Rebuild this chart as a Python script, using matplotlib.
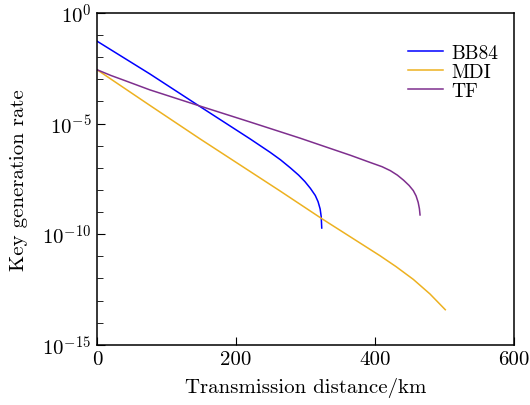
import numpy as np
import matplotlib
matplotlib.use('Agg')
import matplotlib.pyplot as plt
from matplotlib.ticker import LogLocator, NullFormatter

plt.rcParams['font.family'] = 'cmr10'
plt.rcParams['mathtext.fontset'] = 'cm'

# distance in km, rate as log10 value
bb84_km = [0, 76, 146, 220, 249, 264, 278, 290, 299, 307, 314, 318, 321, 322.5, 323.3]
bb84_lg = [-1.28, -2.76, -4.19, -5.69, -6.30, -6.64, -7.00, -7.33, -7.62, -7.93,
           -8.25, -8.53, -8.86, -9.20, -9.72]

mdi_km = [0, 76, 148, 263, 324, 407, 430, 455, 479, 501]
mdi_lg = [-2.57, -4.18, -5.69, -8.04, -9.31, -10.97, -11.46, -12.04, -12.70, -13.41]

tf_km = [0, 20, 40, 76, 146, 220, 292, 335, 365, 393, 410, 422, 432, 441, 449, 455,
         459, 462, 463.8, 464.7]
tf_lg = [-2.57, -2.83, -3.06, -3.48, -4.19, -4.93, -5.66, -6.12, -6.44, -6.76, -6.95,
         -7.13, -7.33, -7.56, -7.80, -8.03, -8.27, -8.56, -8.85, -9.13]

x_ticks = [0, 200, 400, 600]
y_ticks = [1e-15, 1e-10, 1e-5, 1e0]
y_ticklabels = [r'$10^{-15}$', r'$10^{-10}$', r'$10^{-5}$', r'$10^{0}$']

fig = plt.figure(figsize=(5.3, 4.06), dpi=100)
ax = fig.add_axes([0.183, 0.148, 0.787, 0.818])

ax.plot(bb84_km, 10.0 ** np.array(bb84_lg), color='#0000ff', lw=1.1, label='BB84')
ax.plot(mdi_km, 10.0 ** np.array(mdi_lg), color='#EDB120', lw=1.1, label='MDI')
ax.plot(tf_km, 10.0 ** np.array(tf_lg), color='#7E2F8E', lw=1.1, label='TF')

ax.set_yscale('log')
ax.set_xlim(0, 600)
ax.set_ylim(1e-15, 1e0)
ax.set_xticks(x_ticks)
ax.set_xticklabels([str(v) for v in x_ticks])
ax.set_yticks(y_ticks)
ax.set_yticklabels(y_ticklabels)
ax.yaxis.set_minor_locator(LogLocator(base=10, subs=[1.0], numticks=20))
ax.yaxis.set_minor_formatter(NullFormatter())

ax.tick_params(direction='in', length=5.5, width=0.8, labelsize=15, pad=4)
ax.tick_params(which='minor', direction='in', length=4, width=0.6)
for s in ax.spines.values():
    s.set_linewidth(1.1)

ax.set_xlabel('Transmission distance/km', fontsize=15, labelpad=6)
ax.set_ylabel('Key generation rate', fontsize=15, labelpad=10)

ax.legend(loc='upper right', frameon=False, fontsize=14, labelspacing=0.05,
          handlelength=1.8, handletextpad=0.4, borderaxespad=0.0,
          bbox_to_anchor=(0.98, 0.93))

fig.savefig('out.png', dpi=100)
